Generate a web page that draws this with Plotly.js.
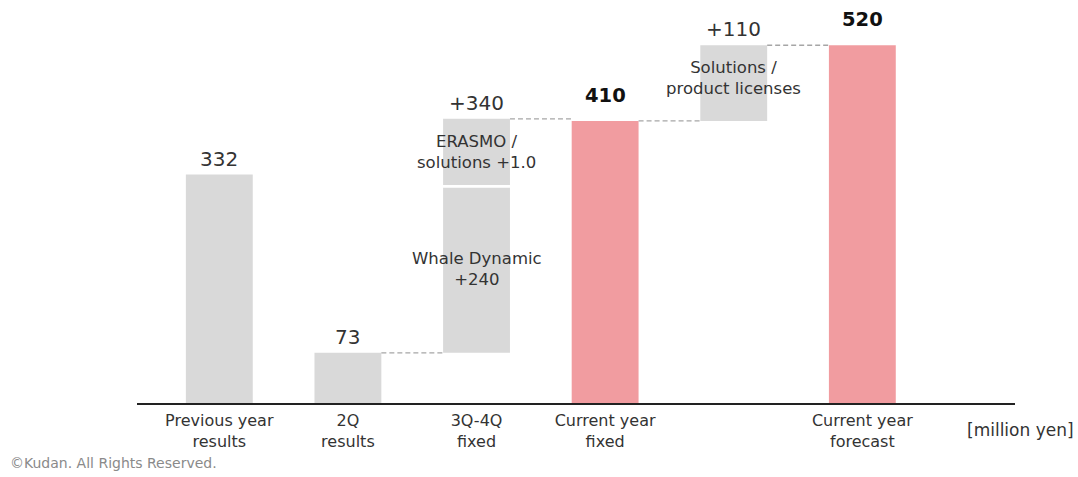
<!DOCTYPE html>
<html>
<head>
<meta charset="utf-8">
<script src="https://cdn.plot.ly/plotly-3.0.1.min.js"></script>
<style>html,body{margin:0;padding:0;background:#fff;}#chart{width:1078px;height:477px;}</style>
</head>
<body>
<div id="chart"></div>
<script>
// ---- data ----
const categories = ["Previous year<br>results", "2Q<br>results", "3Q-4Q<br>fixed", "Current year<br>fixed", "", "Current year<br>forecast"];
const prevYear = 332;
const q2Results = 73;
const whaleDynamic = 240;
const erasmo = 100;
const q3q4Total = 340;
const currentFixed = 410;
const solutions = 110;
const currentForecast = 520;
const valueLabels = ["332", "73", "+340", "410", "+110", "520"];
const segmentLabels = ["Whale Dynamic<br>+240", "ERASMO /<br>solutions +1.0", "Solutions /<br>product licenses"];
const unitLabel = "[million yen]";
const footer = "©Kudan. All Rights Reserved.";

const GRAY = "#d9d9d9", PINK = "#f19ca0", TXT = "#333333";
const FONT = "DejaVu Sans, Verdana, sans-serif";
const W = 0.52;

const q3q4Top = q2Results + whaleDynamic + erasmo;
const forecastBase = currentFixed;

const traces = [
  {type: "bar", x: [0, 1], y: [prevYear, q2Results], base: [0, 0], width: W,
   marker: {color: GRAY}, hoverinfo: "skip"},
  {type: "bar", x: [2], y: [whaleDynamic], base: [q2Results], width: W,
   marker: {color: GRAY}, hoverinfo: "skip"},
  {type: "bar", x: [2], y: [erasmo - 4], base: [q2Results + whaleDynamic + 4], width: W,
   marker: {color: GRAY}, hoverinfo: "skip"},
  {type: "bar", x: [4], y: [solutions], base: [forecastBase], width: W,
   marker: {color: GRAY}, hoverinfo: "skip"},
  {type: "bar", x: [3, 5], y: [currentFixed, currentForecast], base: [0, 0], width: W,
   marker: {color: PINK}, hoverinfo: "skip"}
];

// dashed connectors
const conn = [
  [1 + W/2, 2 - W/2, q2Results],
  [2 + W/2, 3 - W/2, q3q4Top],
  [3 + W/2, 4 - W/2, currentFixed],
  [4 + W/2, 5 - W/2, currentFixed + solutions]
];
conn.forEach(c => traces.push({type: "scatter", mode: "lines", x: [c[0], c[1]], y: [c[2], c[2]],
  line: {color: "#a6a6a6", width: 1.3, dash: "5px,3px"}, hoverinfo: "skip", showlegend: false}));

const tops = [prevYear, q2Results, q3q4Top, currentFixed, currentFixed + solutions, currentForecast];
const bold = [false, false, false, true, false, true];
const annotations = tops.map((t, i) => ({
  x: i, y: t, xref: "x", yref: "y", yanchor: "bottom", yshift: bold[i] ? 12 : 2, showarrow: false,
  text: bold[i] ? "<b>" + valueLabels[i] + "</b>" : valueLabels[i],
  font: {family: FONT, size: bold[i] ? 19.5 : 20, color: bold[i] ? "#111" : TXT}
}));
annotations.push(
  {x: 2, y: q2Results + whaleDynamic / 2 + 2, xref: "x", yref: "y", showarrow: false,
   text: segmentLabels[0], font: {family: FONT, size: 16.5, color: TXT}},
  {x: 2, y: q2Results + whaleDynamic + erasmo / 2 + 2, xref: "x", yref: "y", showarrow: false,
   text: segmentLabels[1], font: {family: FONT, size: 16.5, color: TXT}},
  {x: 4, y: currentFixed + solutions / 2 + 8, xref: "x", yref: "y", showarrow: false,
   text: segmentLabels[2], font: {family: FONT, size: 16.5, color: TXT}},
  {x: 1020, y: 430, xref: "paper", yref: "paper", xanchor: "center", yanchor: "middle", showarrow: false,
   text: unitLabel, font: {family: FONT, size: 17, color: TXT}},
  {x: 8, y: 463, xref: "paper", yref: "paper", xanchor: "left", yanchor: "middle", showarrow: false,
   text: footer, font: {family: FONT, size: 14, color: "#8a8a8a"}}
);
// convert pixel-placed paper annotations
const L = 137, R = 63, T = 20, B = 74;
const pw = 1078 - L - R, ph = 477 - T - B;
annotations.forEach(a => {
  if (a.xref === "paper") {
    a.x = (a.x - L) / pw;
    a.y = (477 - B - a.y) / ph;
  }
});

const layout = {
  width: 1078, height: 477,
  margin: {l: L, r: R, t: T, b: B, pad: 0},
  paper_bgcolor: "#fff", plot_bgcolor: "#fff",
  barmode: "overlay", showlegend: false,
  xaxis: {range: [-0.64, 6.187], tickvals: [0, 1, 2, 3, 4, 5], ticktext: categories,
    showgrid: false, zeroline: false, showline: true, linecolor: "#222", linewidth: 1.6,
    ticks: "", ticklabelstandoff: 2, tickfont: {family: FONT, size: 16, color: TXT}, fixedrange: true},
  yaxis: {range: [0, 556.7], visible: false, showgrid: false, zeroline: false, fixedrange: true},
  annotations: annotations
};

Plotly.newPlot("chart", traces, layout, {displayModeBar: false, staticPlot: true});
</script>
</body>
</html>
